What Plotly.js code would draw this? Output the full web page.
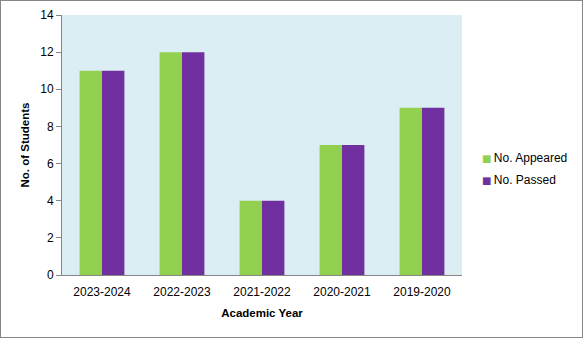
<!DOCTYPE html>
<html><head><meta charset="utf-8">
<script src="https://cdn.plot.ly/plotly-3.0.1.min.js"></script>
<style>html,body{margin:0;padding:0;background:#fff}
#wrap{width:583px;height:338px;box-sizing:border-box;border:1px solid #868686;}
#chart{width:581px;height:336px}</style>
</head><body><div id="wrap"><div id="chart"></div></div>
<script>
const years = ["2023-2024","2022-2023","2021-2022","2020-2021","2019-2020"];
const appeared = [11,12,4,7,9];
const passed = [11,12,4,7,9];
const yTicks = [0,2,4,6,8,10,12,14];
const seriesNames = ["No. Appeared","No. Passed"];
const seriesColors = ["#92D050","#7030A0"];

const fam = "Liberation Sans, Arial, sans-serif";
const data = [
 {type:"bar", x:years, y:appeared, name:seriesNames[0], marker:{color:seriesColors[0]}, showlegend:false},
 {type:"bar", x:years, y:passed, name:seriesNames[1], marker:{color:seriesColors[1]}, showlegend:false}
];
seriesNames.forEach((n,i)=>{
 data.push({type:"scatter", mode:"markers", x:[years[0]], y:[null],
   name:'<span style="color:'+seriesColors[i]+';font-family:DejaVu Sans;font-size:10px">■</span>\u2009'+n,
   marker:{size:1, color:"rgba(0,0,0,0)", line:{width:0}}, legendgroup:"g"+i, hoverinfo:"skip"});
});
const layout = {
 width:581, height:336,
 margin:{l:61,r:120,t:14,b:62, autoexpand:false},
 paper_bgcolor:"#fff", plot_bgcolor:"#DBEEF4",
 font:{family:fam, size:12, color:"#000"},
 barmode:"group", bargap:0.44, bargroupgap:0,
 xaxis:{showline:true, linecolor:"#868686", linewidth:1, ticks:"", showgrid:false,
   ticklabelstandoff:6,
   tickfont:{family:fam,size:12,color:"#000"},
   title:{text:"<b>Academic Year</b>", font:{family:fam,size:11.5}, standoff:10}},
 yaxis:{range:[0,14], tickvals:yTicks, showline:true, linecolor:"#868686", linewidth:1,
   ticks:"outside", ticklen:5, tickcolor:"#868686", showgrid:false, zeroline:false,
   tickfont:{family:fam,size:12,color:"#000"},
   title:{text:"<b>No. of Students</b>", font:{family:fam,size:11.5}, standoff:8}},
 legend:{x:0.95, xanchor:"left", y:0.41, yanchor:"middle", bgcolor:"rgba(0,0,0,0)",
   tracegroupgap:3, font:{family:fam,size:12}},
 showlegend:true
};
Plotly.newPlot("chart", data, layout, {displayModeBar:false, staticPlot:true});
</script></body></html>
